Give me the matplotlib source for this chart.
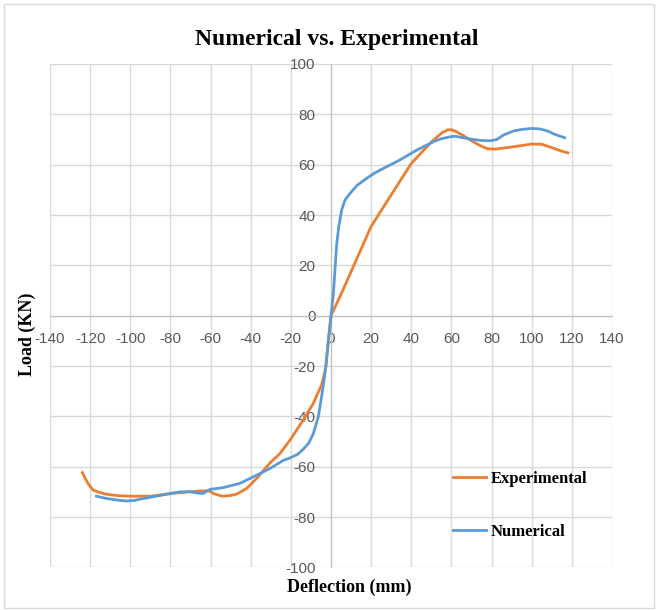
import matplotlib.pyplot as plt
from matplotlib.patches import Rectangle
import numpy as np

plt.rcParams['axes.unicode_minus'] = False

# Experimental curve (deflection mm, load kN)
exp_x = [-123.9, -122.5, -121, -118.5, -115, -112, -106, -100, -90, -79, -70, -62, -60, -58.7,
         -56, -53.7, -50, -47, -42, -37, -30.4, -25.4, -20.5, -13.8, -8.8, -4.7, -2.5, -1.3, 0,
         5, 10, 20, 30, 40, 50, 55, 58, 60, 62, 66, 70, 75, 78, 82, 90, 100, 105, 110, 114, 118]
exp_y = [-62.3, -64.5, -66.8, -69.3, -70.3, -70.9, -71.5, -71.7, -71.7, -70.6, -69.9, -69.5,
         -69.8, -70.6, -71.3, -71.7, -71.4, -70.9, -68.6, -64.6, -58.5, -54.7, -49.5, -41.4,
         -34.8, -27.5, -20.3, -9.7, 0, 8.5, 17.5, 35.5, 48, 60.5, 69, 72.5, 73.8, 73.9, 73.3,
         71.5, 69.5, 67.3, 66.3, 66.2, 67, 68.2, 68.1, 66.8, 65.6, 64.7]

# Numerical curve
num_x = [-116.9, -112, -106, -102, -98, -95.3, -87, -80, -75.3, -71, -68.7, -65, -63.7, -60.3,
         -53.7, -45.4, -38.7, -30.4, -23.8, -20.4, -16.5, -13.8, -11, -8.8, -6.3, -4.7, -3,
         -1.3, 0, 1.2, 2.8, 3.8, 5.3, 7, 9.5, 13, 17.8, 22, 26, 34.4, 42.7, 51, 55, 59.4, 62,
         64.3, 71, 75, 79.3, 82.6, 86, 91, 95, 100, 104, 108, 111, 116.4]
num_y = [-71.7, -72.6, -73.3, -73.6, -73.4, -72.9, -71.7, -70.6, -70, -69.9, -70.2, -70.6,
         -70.6, -69, -68.3, -66.6, -64, -60.7, -57.5, -56.5, -55, -53, -50.5, -46.8, -40,
         -32.2, -23, -10, 0, 9, 28, 35, 42, 46, 48.6, 51.8, 54.6, 56.8, 58.5, 61.9, 65.8, 69.1,
         70.3, 71.1, 71.3, 70.9, 70, 69.6, 69.5, 70, 71.8, 73.4, 74, 74.4, 74.2, 73.4, 72.2,
         70.7]

x_ticks = np.arange(-140, 141, 20)
y_ticks = np.arange(-100, 101, 20)

serif = 'Liberation Serif'
sans = 'Liberation Sans'

fig = plt.figure(figsize=(6.58, 6.10), dpi=100)
ax = fig.add_axes([0.0760, 0.0698, 0.8541, 0.8253])

ax.plot(exp_x, exp_y, color='#ED7D31', lw=2.0, label='Experimental', zorder=3,
        solid_joinstyle='round')
ax.plot(num_x, num_y, color='#5B9BD5', lw=2.0, label='Numerical', zorder=4,
        solid_joinstyle='round')

ax.set_xlim(-140, 140)
ax.set_ylim(-100, 100)
ax.set_xticks(x_ticks)
ax.set_yticks(y_ticks)
ax.grid(True, color='#d9d9d9', lw=1.0, zorder=0)
ax.set_axisbelow(True)

ax.spines['left'].set_position('zero')
ax.spines['bottom'].set_position('zero')
ax.spines['left'].set_color('#bfbfbf')
ax.spines['bottom'].set_color('#bfbfbf')
ax.spines['top'].set_visible(False)
ax.spines['right'].set_visible(False)

ax.tick_params(axis='both', length=0, labelsize=11, labelcolor='#595959')
ax.tick_params(axis='x', pad=12)
ax.tick_params(axis='y', pad=11)
for lab in ax.get_xticklabels() + ax.get_yticklabels():
    lab.set_fontfamily(sans)

fig.text(337 / 658, 1 - 39 / 610, 'Numerical vs. Experimental', ha='center', va='center',
         fontsize=17, fontweight='bold', family=serif)
fig.text(349 / 658, 1 - 587 / 610, 'Deflection (mm)', ha='center', va='center',
         fontsize=13, fontweight='bold', family=serif)
fig.text(27 / 658, 1 - 334 / 610, 'Load (KN)', ha='center', va='center', rotation=90,
         fontsize=13, fontweight='bold', family=serif)

ax.legend(loc='center left', bbox_to_anchor=(453 / 658, 1 - 505.5 / 610),
          bbox_transform=fig.transFigure, frameon=False, borderpad=0, borderaxespad=0,
          handlelength=2.0, handletextpad=0.25, labelspacing=2.2,
          prop={'family': serif, 'weight': 'bold', 'size': 12})

fig.patches.append(Rectangle((0.006, 0.004), 0.988, 0.99, transform=fig.transFigure,
                             fill=False, edgecolor='#d9d9d9', lw=1.0))

fig.savefig('out.png', dpi=100)
